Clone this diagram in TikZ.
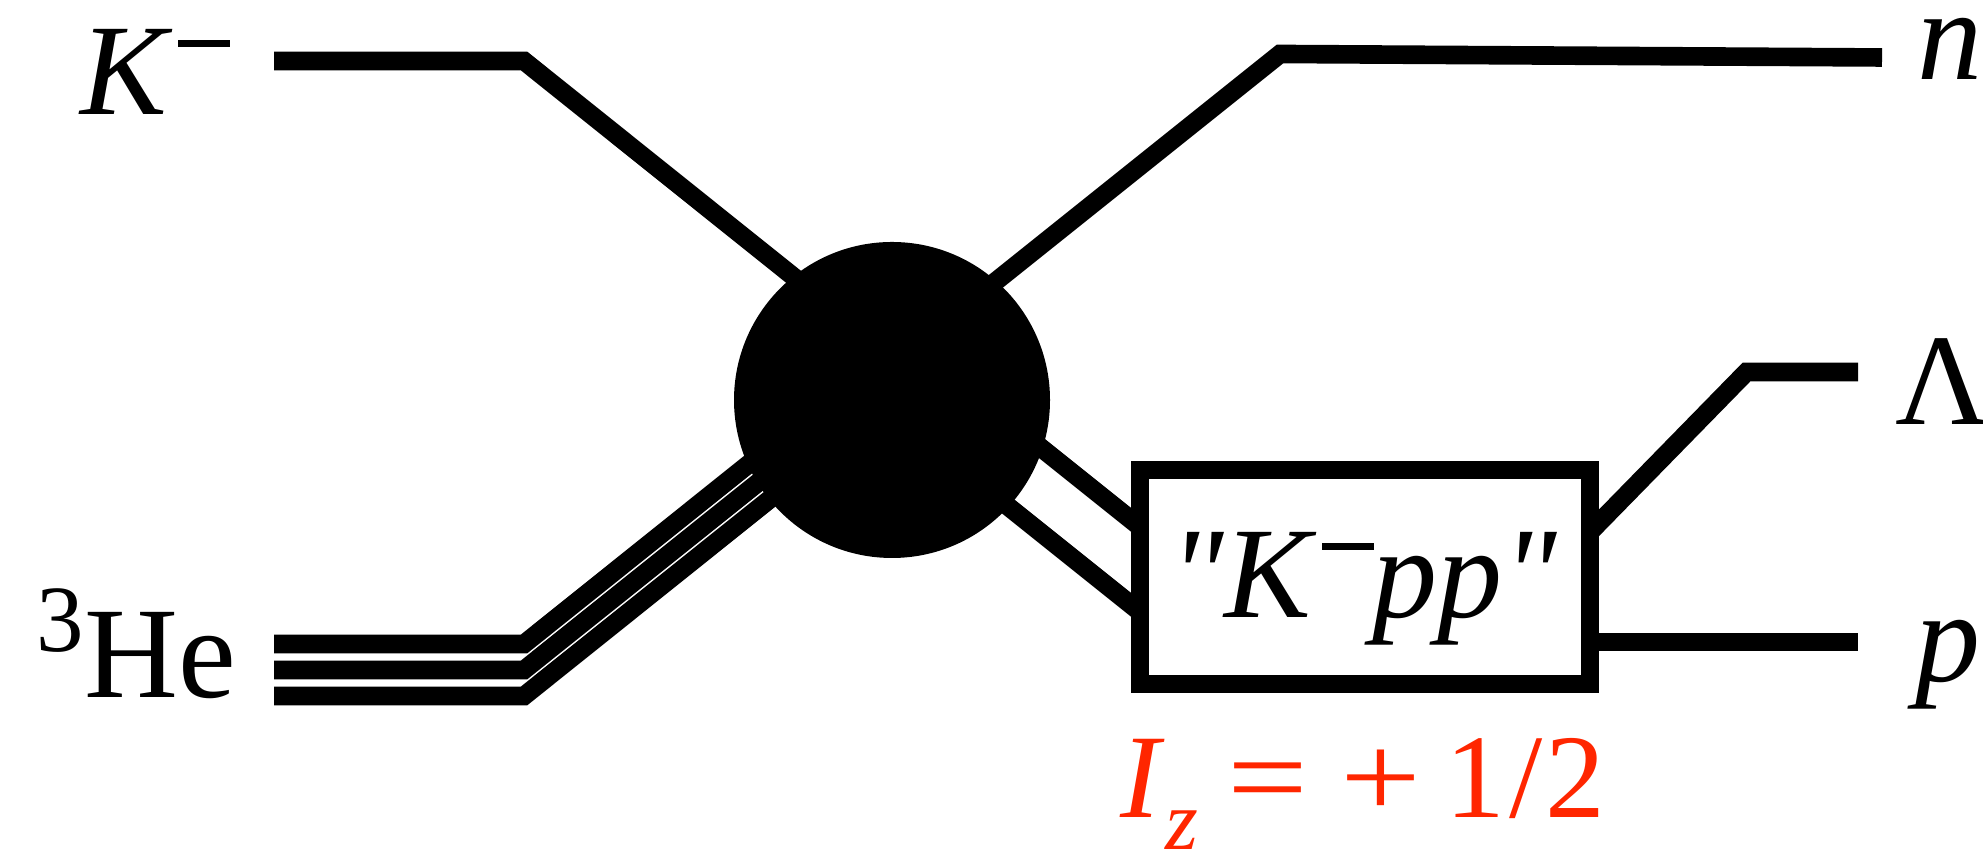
\documentclass[tikz,border=0pt]{standalone}
\usepackage{fontspec}
\setmainfont{LiberationSerif}[Extension=.ttf, UprightFont=*-Regular,
  ItalicFont=*-Italic, BoldFont=*-Bold, BoldItalicFont=*-BoldItalic]
% italic face without the TeX mapping, so " stays a straight quote
\newfontfamily\itplain{LiberationSerif-Italic}[Extension=.ttf]
\usetikzlibrary{positioning}
\definecolor{isored}{HTML}{FF2600}
\newcommand{\supminus}{\hspace{1.5pt}\rule[19.3pt]{14.8pt}{2pt}\hspace{-0.5pt}}

\begin{document}
\begin{tikzpicture}[
    leg/.style={line width=5.3pt, line join=miter},
    lbl/.style={inner sep=0pt, font=\fontsize{37}{40}\selectfont}]
  \useasboundingbox (0,0) rectangle (19.83,8.5);

  % end points and bends of the legs
  \coordinate (kin) at (2.74,7.89);
  \coordinate (kbend) at (5.24,7.89);
  \coordinate (kend) at (8.60,5.20);
  \coordinate (nstart) at (9.30,5.16);
  \coordinate (nbend) at (12.80,7.96);
  \coordinate (nout) at (18.82,7.925);
  \coordinate (hein1) at (2.74,2.06);
  \coordinate (hebend1) at (5.24,2.06);
  \coordinate (heend1) at (8.30,4.51);
  \coordinate (hein2) at (2.74,1.80);
  \coordinate (hebend2) at (5.24,1.80);
  \coordinate (heend2) at (8.40,4.33);
  \coordinate (hein3) at (2.74,1.54);
  \coordinate (hebend3) at (5.24,1.54);
  \coordinate (heend3) at (8.50,4.15);
  \coordinate (pairup) at (9.60,4.67);
  \coordinate (pairupend) at (11.40,3.23);
  \coordinate (pairdown) at (9.40,3.98);
  \coordinate (pairdownend) at (11.40,2.38);
  \coordinate (lamstart) at (15.90,3.18);
  \coordinate (lambend) at (17.465,4.78);
  \coordinate (lamout) at (18.58,4.78);
  \coordinate (pstart) at (15.90,2.08);
  \coordinate (pout) at (18.58,2.08);

  % legs first, blob and box go on top of them
  \draw[leg] (kin) -- (kbend) -- (kend);
  \draw[leg] (nstart) -- (nbend) -- (nout);
  \draw[leg] (hein1) -- (hebend1) -- (heend1);
  \draw[leg] (hein2) -- (hebend2) -- (heend2);
  \draw[leg] (hein3) -- (hebend3) -- (heend3);
  \draw[leg] (pairup) -- (pairupend);
  \draw[leg] (pairdown) -- (pairdownend);
  \draw[leg] (lamstart) -- (lambend) -- (lamout);
  \draw[leg] (pstart) -- (pout);

  \node[circle, fill=black, minimum size=3.16cm, inner sep=0pt] (blob) at (8.92,4.50) {};
  \node[draw, line width=5.3pt, minimum width=4.5cm, minimum height=2.14cm,
        inner sep=0pt] (kpp) at (13.65,2.73) {};
  \node[lbl, anchor=base] (kpptxt) at (13.635,2.32)
       {{\itplain"}\textit{K}\supminus\textit{pp}{\itplain"}};

  % particle labels
  \node[lbl, anchor=base west] (kmlbl) at (0.80,7.35) {\textit{K}\supminus};
  \node[lbl, anchor=base west] (helbl) at (0.36,1.52)
       {\raisebox{13.3pt}{\fontsize{27}{27}\selectfont 3}He};
  \node[lbl, anchor=base west] (nlbl) at (19.17,7.70) {\textit{n}};
  \node[lbl, anchor=base west] (lamlbl) at (18.95,4.25) {Λ};
  \node[lbl, anchor=base west] (plbl) at (19.15,1.68) {\textit{p}};
  \node[lbl, anchor=base west, text=isored, font=\fontsize{34}{36}\selectfont] (izlbl)
       at (11.20,0.32) {\textit{I}\raisebox{-9pt}{\fontsize{24}{24}\selectfont\itshape z}%
       \hspace{8.5pt}\scalebox{1.2}[1]{=}\hspace{9pt}\scalebox{1.2}[1]{+}\hspace{7pt}1\hspace{1pt}/\hspace{1pt}2};
\end{tikzpicture}
\end{document}
